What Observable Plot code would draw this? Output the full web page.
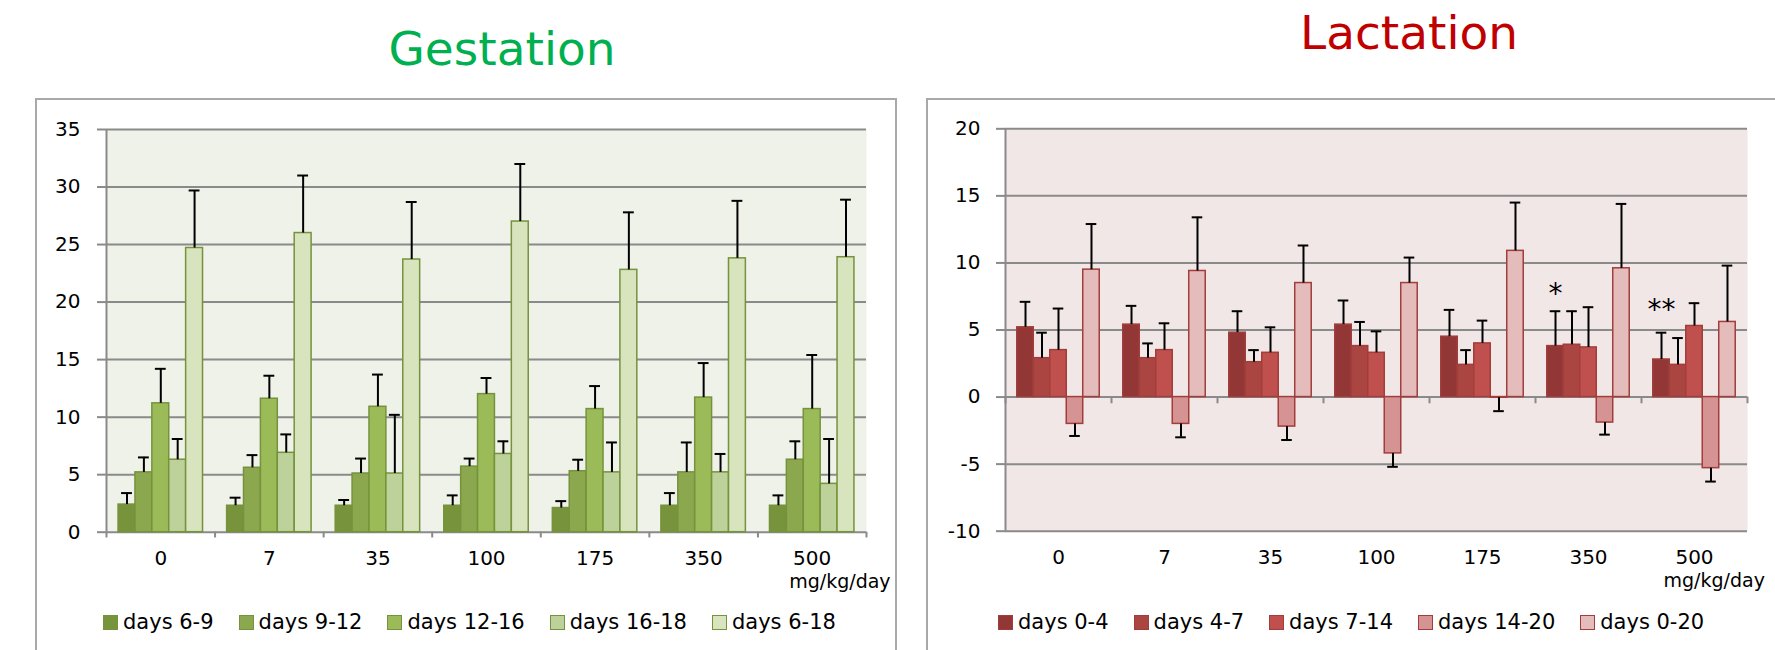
<!DOCTYPE html>
<html><head><meta charset="utf-8">
<script src="https://cdn.jsdelivr.net/npm/d3@7"></script>
<script src="https://cdn.jsdelivr.net/npm/@observablehq/plot@0.6"></script>
<style>
body{margin:0;background:#fff;font-family:"DejaVu Sans",sans-serif;}
#root{position:relative;width:1775px;height:650px;overflow:hidden;background:#fff;}
.frame{position:absolute;border:2px solid #a9a9a9;box-sizing:border-box;}
.title{position:absolute;font-size:47px;white-space:nowrap;transform:translateX(-50%);line-height:1;}
.chart{position:absolute;}
.chart svg{overflow:visible;}
.legend{position:absolute;display:flex;gap:25px;font-size:21px;line-height:24px;align-items:center;white-space:nowrap;color:#000;}
.legend .sw{display:inline-block;width:13px;height:13px;margin-right:5px;vertical-align:-1px;border:1px solid;}
</style></head>
<body><div id="root"></div>
<script>
// ---------- data ----------
const doses = ["0", "7", "35", "100", "175", "350", "500"];
const unitLabel = "mg/kg/day";

const gestSeries = ["days 6-9", "days 9-12", "days 12-16", "days 16-18", "days 6-18"];
const gest_6_9   = [2.4, 2.3, 2.3, 2.3, 2.1, 2.3, 2.3];
const gest_9_12  = [5.2, 5.6, 5.1, 5.7, 5.3, 5.2, 6.3];
const gest_12_16 = [11.2, 11.6, 10.9, 12.0, 10.7, 11.7, 10.7];
const gest_16_18 = [6.3, 6.9, 5.1, 6.8, 5.2, 5.2, 4.2];
const gest_6_18  = [24.7, 26.0, 23.7, 27.0, 22.8, 23.8, 23.9];
const gestSd_6_9   = [1.0, 0.7, 0.5, 0.9, 0.6, 1.1, 0.9];
const gestSd_9_12  = [1.3, 1.1, 1.3, 0.7, 1.0, 2.6, 1.6];
const gestSd_12_16 = [3.0, 2.0, 2.8, 1.4, 2.0, 3.0, 4.7];
const gestSd_16_18 = [1.8, 1.6, 5.1, 1.1, 2.6, 1.6, 3.9];
const gestSd_6_18  = [5.0, 5.0, 5.0, 5.0, 5.0, 5.0, 5.0];
const gestYTicks = [0, 5, 10, 15, 20, 25, 30, 35];

const lactSeries = ["days 0-4", "days 4-7", "days 7-14", "days 14-20", "days 0-20"];
const lact_0_4   = [5.2, 5.4, 4.8, 5.4, 4.5, 3.8, 2.8];
const lact_4_7   = [2.9, 2.9, 2.6, 3.8, 2.4, 3.9, 2.4];
const lact_7_14  = [3.5, 3.5, 3.3, 3.3, 4.0, 3.7, 5.3];
const lact_14_20 = [-2.0, -2.0, -2.2, -4.2, -0.05, -1.9, -5.3];
const lact_0_20  = [9.5, 9.4, 8.5, 8.5, 10.9, 9.6, 5.6];
const lactSd_0_4   = [1.9, 1.4, 1.6, 1.8, 2.0, 2.6, 2.0];
const lactSd_4_7   = [1.9, 1.1, 0.9, 1.8, 1.1, 2.5, 2.0];
const lactSd_7_14  = [3.1, 2.0, 1.9, 1.6, 1.7, 3.0, 1.7];
const lactSd_14_20 = [0.9, 1.0, 1.0, 1.0, 1.0, 0.9, 1.0];
const lactSd_0_20  = [3.4, 4.0, 2.8, 1.9, 3.6, 4.8, 4.2];
const lactYTicks = [-10, -5, 0, 5, 10, 15, 20];
const lactStarDose = ["350", "500"];
const lactStarSeries = ["days 0-4", "days 0-4"];
const lactStarText = ["*", "**"];
const lactStarY = [7.7, 6.5];

// ---------- styles ----------
const gestColors = ["#77933c", "#8ba84f", "#9bbb59", "#bcd29a", "#d7e4bd"];
const gestStroke = "#76923c";
const gestBg = "#eff2e9";
const lactColors = ["#923735", "#aa4542", "#c0504d", "#d59493", "#e5bcbc"];
const lactStroke = "#a13d3b";
const lactBg = "#f2e7e7";
const gridColor = "#8a8a8a";

const PAD = 0.111;             // gap at each side of a dose group (fraction of group)
const BW = (1 - 2 * PAD) / 5;  // bar width (fraction of group)
const CAP = 0.05;              // half-width of error caps

function buildRows(series, values, sds) {
  const rows = [];
  series.forEach((s, j) => {
    doses.forEach((dose, i) => {
      const v = values[j][i], sd = sds[j][i];
      const x1 = i + PAD + j * BW;
      rows.push({dose, series: s, value: v, sd, x1, x2: x1 + BW, xc: x1 + BW / 2,
                 end: v < 0 ? v - sd : v + sd});
    });
  });
  return rows;
}

function makeChart(o) {
  const rows = buildRows(o.series, o.values, o.sds);
  const marks = [
    Plot.frame({fill: o.bg, stroke: "none"}),
    Plot.ruleY(o.yTicks, {stroke: gridColor, strokeWidth: 2}),
    Plot.ruleX([0], {stroke: gridColor, strokeWidth: 2}),
    Plot.ruleX(d3.range(doses.length + 1), {x: d => d, y1: 0, y2: o.tickLen, stroke: gridColor, strokeWidth: 2}),
    Plot.axisY({ticks: o.yTicks, tickSize: 9, tickPadding: o.tickPad, stroke: gridColor, strokeWidth: 2,
                fill: "#000", fontSize: 20, label: null, tickFormat: d => String(d)}),
    Plot.rectY(rows, {x1: "x1", x2: "x2", y1: 0, y2: "value", fill: "series", stroke: o.stroke, strokeWidth: 1.5}),
    Plot.ruleX(rows, {x: "xc", y1: "value", y2: "end", stroke: "#000", strokeWidth: 2}),
    Plot.ruleY(rows, {y: "end", x1: d => d.xc - CAP, x2: d => d.xc + CAP, stroke: "#000", strokeWidth: 2}),
    Plot.text(doses, {x: (d, i) => i + 0.5, text: d => d, frameAnchor: "bottom", dy: 33, fontSize: 20, fill: "#000"}),
    Plot.text([unitLabel], {x: doses.length - 0.5, text: d => d, frameAnchor: "bottom", dy: 56, dx: o.unitDx,
                            textAnchor: "start", fontSize: 19, fill: "#000"})
  ];
  if (o.stars) {
    const starRows = o.stars.map(s => {
      const r = rows.find(r => r.dose === s.dose && r.series === s.series);
      return {xc: r.xc, y: s.y, text: s.text};
    });
    marks.push(Plot.text(starRows, {x: "xc", y: "y", text: "text", fontSize: 28, fill: "#000"}));
  }
  return Plot.plot({
    width: o.width, height: o.height,
    marginLeft: o.ml, marginRight: o.mr, marginTop: o.mt, marginBottom: o.mb,
    x: {domain: [0, doses.length], axis: null},
    y: {domain: o.yDomain, axis: null},
    color: {domain: o.series, range: o.colors},
    style: {fontFamily: "DejaVu Sans", fontSize: "20px", color: "#000", background: "transparent", overflow: "visible"},
    marks
  });
}

const root = document.getElementById("root");
function add(tag, cls, css, html) {
  const el = document.createElement(tag);
  if (cls) el.className = cls;
  Object.assign(el.style, css);
  if (html != null) el.textContent = html;
  root.appendChild(el);
  return el;
}

// frames
add("div", "frame", {left: "35px", top: "98px", width: "862px", height: "700px"});
add("div", "frame", {left: "926px", top: "98px", width: "900px", height: "700px"});

// titles
add("div", "title", {left: "502px", top: "25px", color: "#00b050"}, "Gestation");
add("div", "title", {left: "1409px", top: "9px", color: "#c00000"}, "Lactation");

// charts
const gest = makeChart({
  series: gestSeries,
  values: [gest_6_9, gest_9_12, gest_12_16, gest_16_18, gest_6_18],
  sds: [gestSd_6_9, gestSd_9_12, gestSd_12_16, gestSd_16_18, gestSd_6_18],
  colors: gestColors, stroke: gestStroke, bg: gestBg,
  yDomain: [0, 35], yTicks: gestYTicks, tickLen: -0.5, tickPad: 17, unitDx: -23,
  width: 900, height: 500, ml: 106, mr: 34, mt: 30, mb: 67.3
});
const gDiv = add("div", "chart", {left: "0px", top: "99px"});
gDiv.appendChild(gest);

const lact = makeChart({
  series: lactSeries,
  values: [lact_0_4, lact_4_7, lact_7_14, lact_14_20, lact_0_20],
  sds: [lactSd_0_4, lactSd_4_7, lactSd_7_14, lactSd_14_20, lactSd_0_20],
  colors: lactColors, stroke: lactStroke, bg: lactBg,
  yDomain: [-10, 20], yTicks: lactYTicks, tickLen: -0.5, tickPad: 16, unitDx: -31,
  width: 875, height: 500, ml: 105, mr: 28, mt: 29.3, mb: 68.3,
  stars: lactStarDose.map((d, k) => ({dose: d, series: lactStarSeries[k], text: lactStarText[k], y: lactStarY[k]}))
});
const lDiv = add("div", "chart", {left: "900px", top: "99px"});
lDiv.appendChild(lact);

// legends
function legend(series, colors, stroke, left) {
  const lg = add("div", "legend", {left: left + "px", top: "610px"});
  series.forEach((s, j) => {
    const it = document.createElement("div");
    const sw = document.createElement("span");
    sw.className = "sw";
    sw.style.background = colors[j];
    sw.style.borderColor = stroke;
    it.appendChild(sw);
    it.appendChild(document.createTextNode(s));
    lg.appendChild(it);
  });
}
legend(gestSeries, gestColors, gestStroke, 103);
legend(lactSeries, lactColors, lactStroke, 998);
</script>
</body></html>
